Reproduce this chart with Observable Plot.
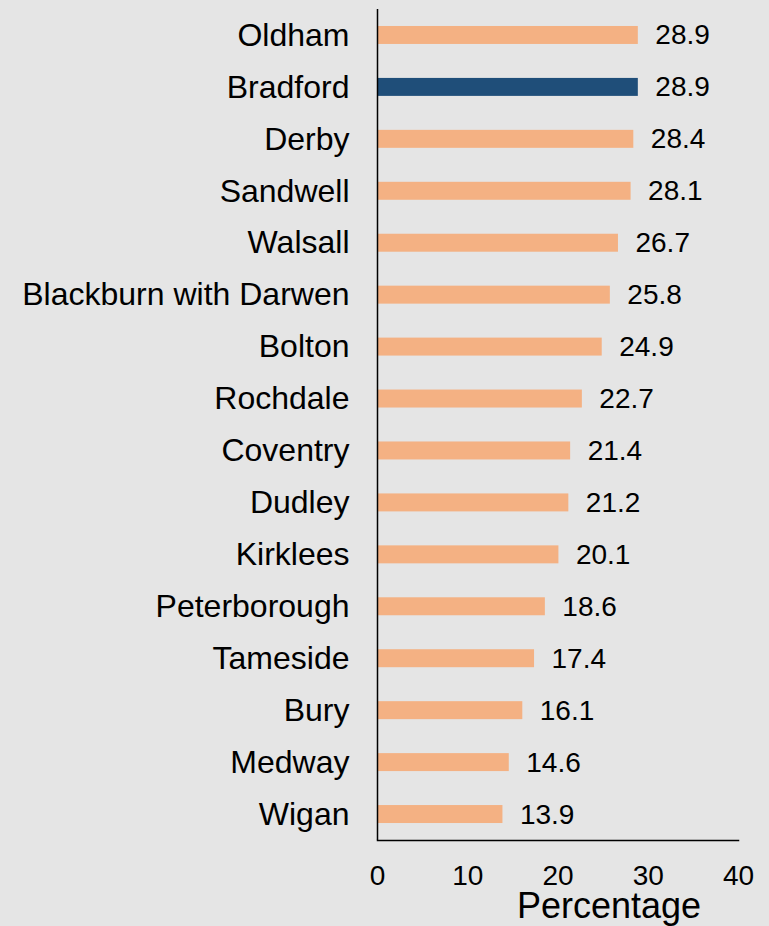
<!DOCTYPE html>
<html>
<head>
<meta charset="utf-8">
<script src="https://cdn.jsdelivr.net/npm/d3@7"></script>
<script src="https://cdn.jsdelivr.net/npm/@observablehq/plot@0.6"></script>
<style>
  html, body { margin: 0; padding: 0; background: #e5e5e5; }
  #chart svg { display: block; }
</style>
</head>
<body>
<div id="chart"></div>
<script>
const areas = ["Oldham", "Bradford", "Derby", "Sandwell", "Walsall", "Blackburn with Darwen", "Bolton", "Rochdale", "Coventry", "Dudley", "Kirklees", "Peterborough", "Tameside", "Bury", "Medway", "Wigan"];
const values = [28.9, 28.9, 28.4, 28.1, 26.7, 25.8, 24.9, 22.7, 21.4, 21.2, 20.1, 18.6, 17.4, 16.1, 14.6, 13.9];
const highlight = "Bradford";
const xTicks = [0, 10, 20, 30, 40];
const xLabel = "Percentage";

const data = areas.map((a, i) => ({area: a, value: values[i], hl: a === highlight}));

const chart = Plot.plot({
  width: 769,
  height: 926,
  marginLeft: 377,
  marginRight: 31,
  marginTop: 9,
  marginBottom: 86,
  style: {background: "#e5e5e5", fontFamily: "'Liberation Sans', Arial, sans-serif", color: "#000"},
  x: {domain: [0, 40], label: null},
  y: {domain: areas, paddingInner: 0.654, paddingOuter: 0.327, round: false, label: null},
  marks: [
    Plot.barX(data, {y: "area", x: "value", fill: d => d.hl ? "#1f4e79" : "#f4b183"}),
    Plot.text(data, {y: "area", x: "value", text: d => d.value.toFixed(1), textAnchor: "start", dx: 17, fontSize: 28, fill: "#000"}),
    Plot.ruleX([0], {stroke: "#000", strokeWidth: 1.5}),
    Plot.axisX({ticks: xTicks, tickSize: 0, tickPadding: 25, fontSize: 28, label: null, tickFormat: d => String(d)}),
    Plot.axisY({tickSize: 0, tickPadding: 28, fontSize: 32, label: null}),
    Plot.frame({anchor: "bottom", stroke: "#000", strokeWidth: 1.5}),
    Plot.text([xLabel], {frameAnchor: "bottom", dx: 51, dy: 77, fontSize: 36, fill: "#000"})
  ]
});
document.getElementById("chart").appendChild(chart);
</script>
</body>
</html>
